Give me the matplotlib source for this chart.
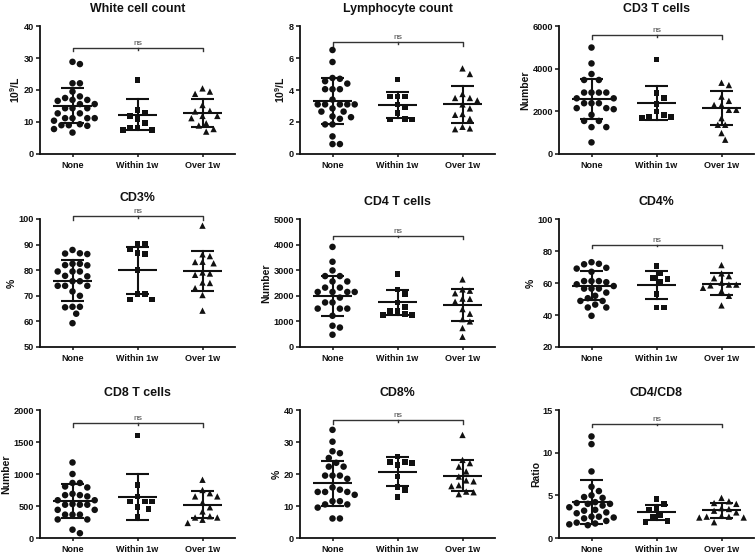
import matplotlib
matplotlib.use('Agg')
import matplotlib.pyplot as plt
import numpy as np

plt.rcParams['font.family'] = ['Liberation Sans', 'DejaVu Sans']
plt.rcParams['mathtext.fontset'] = 'custom'
plt.rcParams['mathtext.rm'] = 'Liberation Sans'
plt.rcParams['mathtext.bf'] = 'Liberation Sans:bold'

groups = ['None', 'Within 1w', 'Over 1w']
markers = ['o', 's', '^']

titles = ['White cell count', 'Lymphocyte count', 'CD3 T cells',
          'CD3%', 'CD4 T cells', 'CD4%',
          'CD8 T cells', 'CD8%', 'CD4/CD8']
ylabels = [r'$\mathbf{10^{9}}$/L', r'$\mathbf{10^{9}}$/L', 'Number',
           '%', 'Number', '%',
           'Number', '%', 'Ratio']
ylims = [(0, 40), (0, 8), (0, 6000), (50, 100), (0, 5000), (20, 100),
         (0, 2000), (0, 40), (0, 15)]
ysteps = [10, 2, 2000, 10, 1000, 20, 500, 10, 5]
bracket_y = [33.2, 7.0, 5570, 101.0, 4350, 84, 1790, 36.9, 13.4]

# White cell count
wbc_none = [28.8, 28.1, 22.1, 22.1, 19.5, 18.0, 17.5, 16.9, 16.9, 16.6, 15.6, 15.6, 14.3, 14.3,
            14.3, 12.7, 12.7, 11.2, 11.2, 11.2, 11.2, 10.4, 9.3, 9.0, 9.0, 8.8, 7.8, 6.7]
wbc_within = [23.1, 13.8, 12.9, 11.9, 10.9, 9.6, 8.3, 8.3, 7.6, 7.5]
wbc_over = [20.5, 19.5, 18.8, 15.3, 13.5, 13.3, 11.9, 11.9, 11.2, 9.6, 8.9, 7.8, 7.0]
wbc_mean = [15.1, 12.3, 12.7]
wbc_sd = [5.5, 4.9, 4.4]

# Lymphocyte count
lym_none = [6.5, 5.75, 4.75, 4.7, 4.55, 4.4, 4.05, 4.05, 4.05, 3.4, 3.1, 3.1, 3.1, 3.1, 3.1,
            2.85, 2.65, 2.65, 2.35, 2.3, 2.2, 1.85, 1.85, 1.1, 0.62, 0.62]
lym_within = [4.66, 3.6, 3.6, 3.6, 3.1, 2.95, 2.55, 2.2, 2.15, 2.15]
lym_over = [5.35, 5.0, 3.75, 3.5, 3.5, 3.35, 3.1, 2.85, 2.5, 2.45, 2.2, 1.7, 1.6, 1.55]
lym_mean = [3.3, 3.05, 3.1]
lym_sd = [1.45, 0.83, 1.15]

# CD3 T cells
cd3_none = [4990, 4245, 3750, 3470, 3470, 2880, 2880, 2880, 2880, 2610, 2610, 2380, 2380, 2380,
            2150, 2150, 2100, 1835, 1550, 1550, 1260, 1260, 545]
cd3_within = [4430, 2850, 2640, 2350, 1990, 1835, 1760, 1730, 1700]
cd3_over = [3340, 3230, 2690, 2490, 2300, 2300, 2070, 2070, 1680, 1370, 1370, 980, 670]
cd3_mean = [2590, 2400, 2170]
cd3_sd = [940, 800, 790]

# CD3%
cd3p_none = [87.9, 86.6, 86.5, 86.3, 82.5, 82.5, 82.0, 81.9, 79.5, 79.5, 79.5, 77.8, 77.6, 75.7,
             75.7, 73.9, 73.9, 73.9, 71.7, 70.0, 65.7, 65.7, 65.5, 63.0, 59.3]
cd3p_within = [90.3, 90.3, 88.1, 86.8, 86.2, 80.0, 70.7, 70.7, 68.6, 68.6]
cd3p_over = [97.4, 86.2, 85.5, 83.3, 83.2, 82.7, 79.1, 78.7, 78.2, 75.2, 75.0, 73.0, 70.3, 64.2]
cd3p_mean = [75.8, 80.0, 79.8]
cd3p_sd = [8.0, 9.2, 7.8]

# CD4 T cells
cd4_none = [3910, 3330, 2990, 2770, 2770, 2560, 2560, 2320, 2320, 2150, 2150, 2150, 2150, 1930,
            1740, 1740, 1500, 1500, 1500, 1220, 830, 760, 480]
cd4_within = [2840, 2250, 2060, 1740, 1570, 1410, 1410, 1280, 1250, 1250]
cd4_over = [2640, 2250, 2200, 2100, 1890, 1880, 1770, 1480, 1300, 1090, 1000, 740, 400]
cd4_mean = [2000, 1740, 1630]
cd4_sd = [790, 500, 620]

# CD4%
cd4p_none = [73.0, 72.0, 71.7, 69.5, 69.0, 67.0, 61.2, 61.2, 61.2, 60.5, 59.2, 58.1, 56.5, 56.5,
             56.5, 54.0, 52.0, 50.5, 48.8, 48.8, 46.5, 44.7, 44.7, 39.5]
cd4p_within = [70.6, 66.0, 63.1, 62.7, 60.5, 53.0, 44.7, 44.7]
cd4p_over = [71.2, 66.0, 64.3, 63.0, 60.2, 59.0, 59.0, 58.5, 57.0, 55.0, 52.0, 46.0]
cd4p_mean = [58.3, 58.7, 59.3]
cd4p_sd = [9.0, 8.8, 6.7]

# CD8 T cells
cd8_none = [1180, 1000, 860, 860, 805, 790, 690, 670, 670, 650, 590, 590, 530, 520, 520, 520,
            440, 440, 365, 365, 365, 290, 290, 130, 75]
cd8_within = [1600, 830, 650, 570, 570, 570, 490, 455, 335]
cd8_over = [910, 750, 700, 650, 650, 555, 480, 415, 340, 320, 320, 285, 235]
cd8_mean = [575, 645, 520]
cd8_sd = [265, 360, 210]

# CD8%
cd8p_none = [33.8, 30.1, 27.1, 26.5, 25.0, 23.5, 22.3, 22.3, 19.5, 19.5, 19.5, 18.5, 15.8, 15.1,
             14.4, 14.4, 14.4, 13.5, 11.5, 11.5, 10.5, 10.5, 9.5, 6.1, 6.1]
cd8p_within = [25.5, 23.7, 23.7, 23.5, 22.9, 19.2, 16.0, 15.1, 12.7]
cd8p_over = [32.2, 24.4, 23.4, 22.3, 20.8, 19.2, 18.0, 17.7, 16.5, 16.2, 14.5, 14.3, 13.7]
cd8p_mean = [17.1, 20.7, 19.5]
cd8p_sd = [7.0, 4.6, 4.85]

# CD4/CD8 ratio
ratio_none = [11.9, 11.0, 7.8, 6.0, 5.5, 5.0, 4.8, 4.7, 4.2, 4.1, 4.0, 4.0, 3.8, 3.6, 3.3, 3.2,
              3.0, 2.9, 2.5, 2.5, 2.4, 2.3, 2.0, 1.8, 1.7, 1.6, 1.5]
ratio_within = [4.55, 3.95, 3.5, 3.3, 2.7, 2.5, 2.0, 1.9]
ratio_over = [4.7, 4.3, 4.1, 4.0, 3.5, 3.4, 3.2, 3.0, 2.6, 2.5, 2.5, 2.4, 2.4, 1.85]
ratio_mean = [4.25, 3.0, 3.25]
ratio_sd = [2.6, 0.9, 0.85]

panel_data = [
    ([wbc_none, wbc_within, wbc_over], wbc_mean, wbc_sd),
    ([lym_none, lym_within, lym_over], lym_mean, lym_sd),
    ([cd3_none, cd3_within, cd3_over], cd3_mean, cd3_sd),
    ([cd3p_none, cd3p_within, cd3p_over], cd3p_mean, cd3p_sd),
    ([cd4_none, cd4_within, cd4_over], cd4_mean, cd4_sd),
    ([cd4p_none, cd4p_within, cd4p_over], cd4p_mean, cd4p_sd),
    ([cd8_none, cd8_within, cd8_over], cd8_mean, cd8_sd),
    ([cd8p_none, cd8p_within, cd8p_over], cd8p_mean, cd8p_sd),
    ([ratio_none, ratio_within, ratio_over], ratio_mean, ratio_sd),
]

FW, FH = 756, 553
lefts = [40, 300, 559]
tops = [26, 219, 410]
AW, AH = 195, 128


def swarm_offsets(vals, px_per_unit, px_per_cat, d=7.4):
    vals = np.asarray(vals, dtype=float)
    offs = np.zeros(len(vals))
    placed = []
    step = d / 2.0
    cands = [0]
    for j in range(1, 30):
        cands += [j, -j]
    for idx in np.argsort(-vals):
        y = vals[idx] * px_per_unit
        for k in cands:
            x = k * step
            if all((x - px) ** 2 + (y - py) ** 2 >= d * d for px, py in placed):
                placed.append((x, y))
                offs[idx] = x / px_per_cat
                break
    return offs


fig = plt.figure(figsize=(FW / 100, FH / 100), dpi=100)
col = '#111111'

for i, (series, means, sds) in enumerate(panel_data):
    r, c = divmod(i, 3)
    ax = fig.add_axes([lefts[c] / FW, 1 - (tops[r] + AH) / FH, AW / FW, AH / FH])
    y0, y1 = ylims[i]
    ppu = AH / (y1 - y0)
    ppc = AW / 3.0
    for g, vals in enumerate(series):
        offs = swarm_offsets(vals, ppu, ppc)
        ax.scatter(g + offs, vals, marker=markers[g], s=[22, 17, 21][g],
                   color=col, edgecolors='none', zorder=3, clip_on=False)
        m, sd = means[g], sds[g]
        ax.plot([g - 0.3, g + 0.3], [m, m], color=col, lw=1.5, zorder=4, solid_capstyle='butt')
        ax.plot([g, g], [m - sd, m + sd], color=col, lw=1.5, zorder=4)
        for yy in (m - sd, m + sd):
            ax.plot([g - 0.17, g + 0.17], [yy, yy], color=col, lw=1.5, zorder=4,
                    solid_capstyle='butt')
    # significance bracket
    h = bracket_y[i]
    dh = 0.028 * (y1 - y0)
    ax.plot([0, 0, 2, 2], [h - dh, h, h, h - dh], color='#333333', lw=1.0, clip_on=False)
    ax.plot([1, 1], [h, h - dh * 0.5], color='#333333', lw=1.0, clip_on=False)
    ax.text(1, h + dh * 0.3, 'ns', ha='center', va='bottom', fontsize=6.0, color='#444444')

    ax.set_xlim(-0.5, 2.5)
    ax.set_ylim(y0, y1)
    ax.set_yticks(np.arange(y0, y1 + ysteps[i] * 0.5, ysteps[i]))
    ax.set_xticks(range(3))
    ax.set_xticklabels(groups, fontsize=6.5, fontweight='bold')
    for lab in ax.get_yticklabels():
        lab.set_fontweight('bold')
    ax.tick_params(axis='y', labelsize=6.6, length=3, width=1.1, pad=1.2, colors=col)
    ax.tick_params(axis='x', length=2, width=1.1, pad=3, colors=col)
    for s in ('top', 'right'):
        ax.spines[s].set_visible(False)
    for s in ('left', 'bottom'):
        ax.spines[s].set_linewidth(1.3)
        ax.spines[s].set_color(col)
    ax.set_ylabel(ylabels[i], fontsize=7.5, fontweight='bold', labelpad=1.5, color=col)
    ax.set_title(titles[i], fontsize=8.9, fontweight='bold', pad=13 if i == 3 else 10, color=col)

fig.savefig('out.png', dpi=100)
